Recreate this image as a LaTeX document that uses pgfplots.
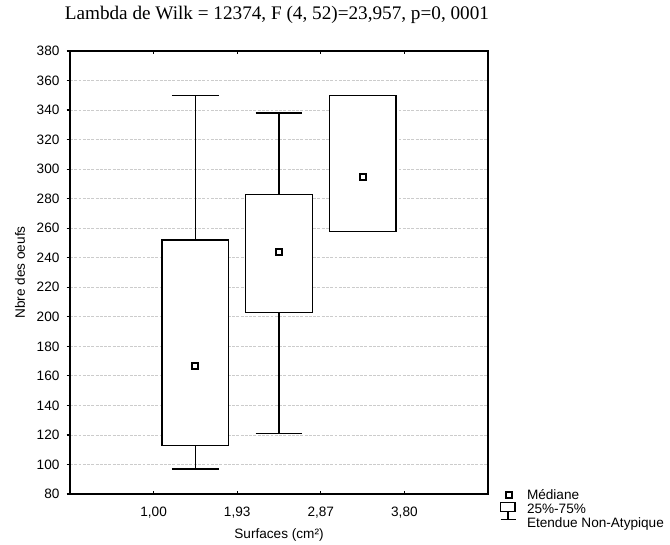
\documentclass[border=0pt]{standalone}
\usepackage{fontspec}
\setmainfont{Liberation Sans}
\newfontfamily\titlefont{Liberation Serif}
\usepackage{pgfplots}
\pgfplotsset{compat=1.18}

\begin{document}
\begin{tikzpicture}
\useasboundingbox (0,0) rectangle (502.5pt,408pt);
\begin{axis}[
  at={(52.5pt,37.5pt)}, anchor=south west,
  scale only axis, width=313.5pt, height=332.25pt,
  xmin=0, xmax=5, ymin=80, ymax=380,
  xtick={1,2,3,4}, xticklabels={{1,00},{1,93},{2,87},{3,80}},
  ytick={80,100,...,380},
  /pgf/number format/assume math mode=true,
  font=\fontsize{10.2}{12}\selectfont,
  ymajorgrids,
  grid style={gray!40, dash pattern=on 2.2pt off 1pt, line width=0.6pt},
  axis line style={line width=1.4pt},
  xtick align=inside, xtick pos=both,
  ytick align=outside, ytick pos=left,
  major tick length=2.5pt,
  tick style={black, line width=0.9pt},
  xticklabel style={anchor=center, yshift=-14pt},
  yticklabel style={anchor=east, inner sep=0pt, xshift=-5.25pt},
  xlabel={Surfaces (cm²)}, ylabel={Nbre des oeufs},
  every axis x label/.style={at={(axis description cs:0.5,-0.0925)}, anchor=center},
  every axis y label/.style={at={(axis description cs:-0.1196,0.5)}, anchor=center, rotate=90},
  title={Lambda de Wilk = 12374, F (4, 52)=23,957, p=0, 0001},
  every axis title/.style={font=\titlefont\fontsize{14.4}{17}\selectfont, at={(axis description cs:0.495,1)}, anchor=base, yshift=24pt},
  unbounded coords=jump,
  legend style={at={(axis description cs:1.0287,0.0088)}, anchor=north west, draw=none, fill=none,
    inner sep=0pt, outer sep=0pt, row sep=3pt, column sep=0pt,
    nodes={inner sep=0pt, text height=7.3pt, text depth=0pt, anchor=west},
    font=\fontsize{10.2}{12}\selectfont},
  legend cell align=left,
]
% whiskers (vertical stems and caps)
\addplot[black, line width=0.9pt, forget plot] coordinates {
  (1.5,97) (1.5,113) (1.5,nan) (1.22,97) (1.78,97) (1.78,nan)
  (1.5,252) (1.5,350) (1.5,nan) (1.22,350) (1.78,350)};
\addplot[black, line width=0.9pt, forget plot] coordinates {
  (2.5,121) (2.5,203) (2.5,nan) (2.22,121) (2.78,121) (2.78,nan)
  (2.5,283) (2.5,338) (2.5,nan) (2.22,338) (2.78,338)};
% boxes (25%-75%)
\addplot[draw=black, fill=white, line width=0.9pt, forget plot] coordinates {
  (1.1,113) (1.9,113) (1.9,252) (1.1,252)} -- cycle;
\addplot[draw=black, fill=white, line width=0.9pt, forget plot] coordinates {
  (2.1,203) (2.9,203) (2.9,283) (2.1,283)} -- cycle;
\addplot[draw=black, fill=white, line width=0.9pt, forget plot] coordinates {
  (3.1,258) (3.9,258) (3.9,350) (3.1,350)} -- cycle;
% box 3 whisker caps (coincide with box edges)
\addplot[black, line width=0.9pt, forget plot] coordinates {
  (3.22,258) (3.78,258) (3.78,nan) (3.22,350) (3.78,350)};
% medians
\addplot[only marks, mark=square*, mark size=2.25pt,
  mark options={fill=white, draw=black, line width=1.5pt, solid}, forget plot]
  coordinates {(1.5,167) (2.5,244) (3.5,295)};

\addlegendimage{legend image code/.code={
  \path[draw=none, fill=none] (0pt,-3.65pt) rectangle (20.25pt,3.65pt);
  \draw[black, line width=1.4pt, fill=white] (4.3pt,-2.25pt) rectangle (8.7pt,2.25pt);}}
\addlegendentry{Médiane}
\addlegendimage{legend image code/.code={
  \path[draw=none, fill=none] (0pt,-3.65pt) rectangle (20.25pt,3.65pt);
  \draw[overlay, black, fill=none, line width=1pt] (0.5pt,-2.25pt) rectangle (11.25pt,4.5pt);}}
\addlegendentry{25\%-75\%}
\addlegendimage{legend image code/.code={
  \path[draw=none, fill=none] (0pt,-3.65pt) rectangle (20.25pt,3.65pt);
  \draw[overlay, black, line width=1pt] (5.9pt,8pt) -- (5.9pt,2.4pt);
  \draw[overlay, black, line width=1pt] (0.5pt,2.4pt) -- (11.75pt,2.4pt);}}
\addlegendentry{Etendue Non-Atypique}
\end{axis}
\end{tikzpicture}
\end{document}
